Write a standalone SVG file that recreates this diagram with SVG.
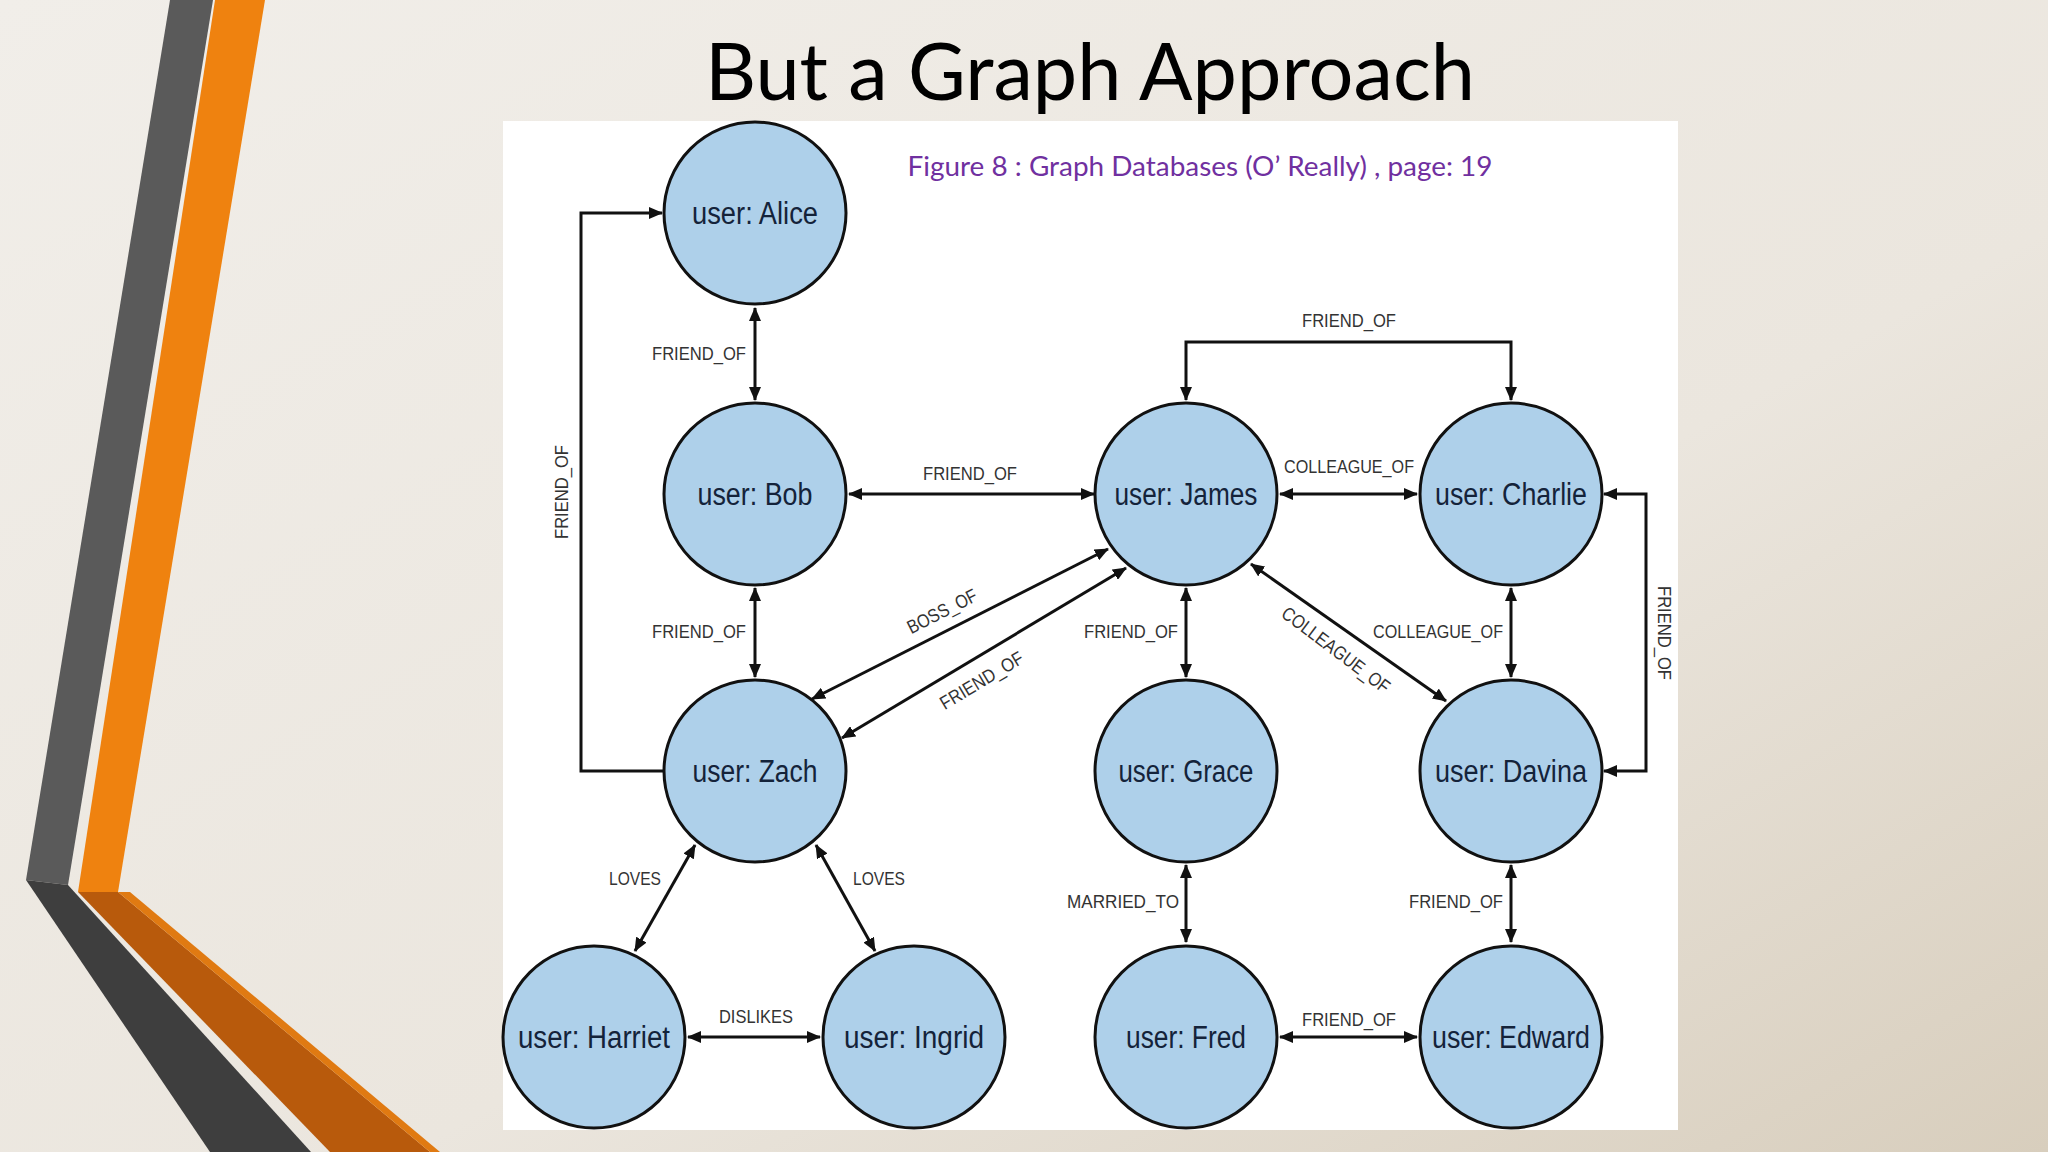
<svg xmlns="http://www.w3.org/2000/svg" width="2048" height="1152" viewBox="0 0 2048 1152">
<defs>
<linearGradient id="bg" x1="0" y1="0" x2="1" y2="1"><stop offset="0" stop-color="#f1eee9"/><stop offset="0.6" stop-color="#ebe6de"/><stop offset="1" stop-color="#d8cebd"/></linearGradient>
<marker id="ah" viewBox="0 0 14 12" refX="13" refY="6" markerWidth="14" markerHeight="12" markerUnits="userSpaceOnUse" orient="auto-start-reverse"><path d="M0,0 L14,6 L0,12 z" fill="#111"/></marker>
<style>
.n circle{fill:#aed0ea;stroke:#111;stroke-width:3}
.n text{font-family:"Liberation Sans",sans-serif;font-size:31px;fill:#14233a;text-anchor:middle}
#edges path{fill:none;stroke:#111;stroke-width:3;marker-end:url(#ah)}
#edges path.b{marker-start:url(#ah)}
.l{font-family:"Liberation Sans",sans-serif;font-size:19px;fill:#333;text-anchor:middle}
</style>
</defs>
<rect width="2048" height="1152" fill="url(#bg)"/>
<polygon points="26,880 170,0 213,0 68,885" fill="#5a5a5a"/>
<polygon points="78,892 215,0 265,0 118,892" fill="#ef820f"/>
<polygon points="26,880 68,885 311,1152 210,1152" fill="#3e3e3e"/>
<polygon points="78,892 118,892 430,1152 330,1152" fill="#b85a0c"/>
<polygon points="118,892 130,892 440,1152 430,1152" fill="#e07a12"/>
<text x="1090" y="100" font-family="Lato,sans-serif" font-size="80" text-anchor="middle" textLength="770" lengthAdjust="spacingAndGlyphs" fill="#000">But a Graph Approach</text>
<rect x="503" y="121" width="1175" height="1009" fill="#fff"/>
<text x="1200" y="176" font-family="Lato,sans-serif" font-size="26" text-anchor="middle" textLength="585" lengthAdjust="spacingAndGlyphs" fill="#7030a0">Figure 8 : Graph Databases (O’ Really) , page: 19</text>
<g id="edges">
<path class="b" d="M755,308 L755,400"/>
<path d="M664,771 L581,771 L581,213 L662,213"/>
<path class="b" d="M849,494 L1094,494"/>
<path class="b" d="M1280,494 L1417,494"/>
<path class="b" d="M1186,400 L1186,342 L1511,342 L1511,400"/>
<path class="b" d="M1604,494 L1646,494 L1646,771 L1604,771"/>
<path class="b" d="M755,588 L755,677"/>
<path class="b" d="M1108,549 L812,699"/>
<path class="b" d="M1126,568 L842,738"/>
<path class="b" d="M1186,588 L1186,677"/>
<path class="b" d="M1251,564 L1446,701"/>
<path class="b" d="M1511,588 L1511,677"/>
<path class="b" d="M695,845 L635,951"/>
<path class="b" d="M816,845 L875,951"/>
<path class="b" d="M688,1037 L820,1037"/>
<path class="b" d="M1186,865 L1186,942"/>
<path class="b" d="M1511,865 L1511,942"/>
<path class="b" d="M1280,1037 L1417,1037"/>
</g>
<g id="labels">
<text class="l" x="699" y="360" textLength="94" lengthAdjust="spacingAndGlyphs">FRIEND_OF</text>
<text class="l" transform="translate(568,492) rotate(-90)" textLength="94" lengthAdjust="spacingAndGlyphs">FRIEND_OF</text>
<text class="l" x="970" y="480" textLength="94" lengthAdjust="spacingAndGlyphs">FRIEND_OF</text>
<text class="l" x="1349" y="473" textLength="130" lengthAdjust="spacingAndGlyphs">COLLEAGUE_OF</text>
<text class="l" x="1349" y="327" textLength="94" lengthAdjust="spacingAndGlyphs">FRIEND_OF</text>
<text class="l" transform="translate(1658,633) rotate(90)" textLength="94" lengthAdjust="spacingAndGlyphs">FRIEND_OF</text>
<text class="l" x="699" y="638" textLength="94" lengthAdjust="spacingAndGlyphs">FRIEND_OF</text>
<text class="l" transform="translate(945,617) rotate(-27)" textLength="76" lengthAdjust="spacingAndGlyphs">BOSS_OF</text>
<text class="l" transform="translate(985,686) rotate(-31)" textLength="94" lengthAdjust="spacingAndGlyphs">FRIEND_OF</text>
<text class="l" x="1131" y="638" textLength="94" lengthAdjust="spacingAndGlyphs">FRIEND_OF</text>
<text class="l" transform="translate(1332,655) rotate(37)" textLength="130" lengthAdjust="spacingAndGlyphs">COLLEAGUE_OF</text>
<text class="l" x="1438" y="638" textLength="130" lengthAdjust="spacingAndGlyphs">COLLEAGUE_OF</text>
<text class="l" x="635" y="885" textLength="52" lengthAdjust="spacingAndGlyphs">LOVES</text>
<text class="l" x="879" y="885" textLength="52" lengthAdjust="spacingAndGlyphs">LOVES</text>
<text class="l" x="756" y="1023" textLength="74" lengthAdjust="spacingAndGlyphs">DISLIKES</text>
<text class="l" x="1123" y="908" textLength="112" lengthAdjust="spacingAndGlyphs">MARRIED_TO</text>
<text class="l" x="1456" y="908" textLength="94" lengthAdjust="spacingAndGlyphs">FRIEND_OF</text>
<text class="l" x="1349" y="1026" textLength="94" lengthAdjust="spacingAndGlyphs">FRIEND_OF</text>
</g>
<g id="alice" class="n"><circle cx="755" cy="213" r="91"/><text x="755" y="224" textLength="126" lengthAdjust="spacingAndGlyphs">user: Alice</text></g>
<g id="bob" class="n"><circle cx="755" cy="494" r="91"/><text x="755" y="505" textLength="115" lengthAdjust="spacingAndGlyphs">user: Bob</text></g>
<g id="james" class="n"><circle cx="1186" cy="494" r="91"/><text x="1186" y="505" textLength="143" lengthAdjust="spacingAndGlyphs">user: James</text></g>
<g id="charlie" class="n"><circle cx="1511" cy="494" r="91"/><text x="1511" y="505" textLength="152" lengthAdjust="spacingAndGlyphs">user: Charlie</text></g>
<g id="zach" class="n"><circle cx="755" cy="771" r="91"/><text x="755" y="782" textLength="125" lengthAdjust="spacingAndGlyphs">user: Zach</text></g>
<g id="grace" class="n"><circle cx="1186" cy="771" r="91"/><text x="1186" y="782" textLength="135" lengthAdjust="spacingAndGlyphs">user: Grace</text></g>
<g id="davina" class="n"><circle cx="1511" cy="771" r="91"/><text x="1511" y="782" textLength="152" lengthAdjust="spacingAndGlyphs">user: Davina</text></g>
<g id="harriet" class="n"><circle cx="594" cy="1037" r="91"/><text x="594" y="1048" textLength="152" lengthAdjust="spacingAndGlyphs">user: Harriet</text></g>
<g id="ingrid" class="n"><circle cx="914" cy="1037" r="91"/><text x="914" y="1048" textLength="140" lengthAdjust="spacingAndGlyphs">user: Ingrid</text></g>
<g id="fred" class="n"><circle cx="1186" cy="1037" r="91"/><text x="1186" y="1048" textLength="120" lengthAdjust="spacingAndGlyphs">user: Fred</text></g>
<g id="edward" class="n"><circle cx="1511" cy="1037" r="91"/><text x="1511" y="1048" textLength="158" lengthAdjust="spacingAndGlyphs">user: Edward</text></g>
</svg>
